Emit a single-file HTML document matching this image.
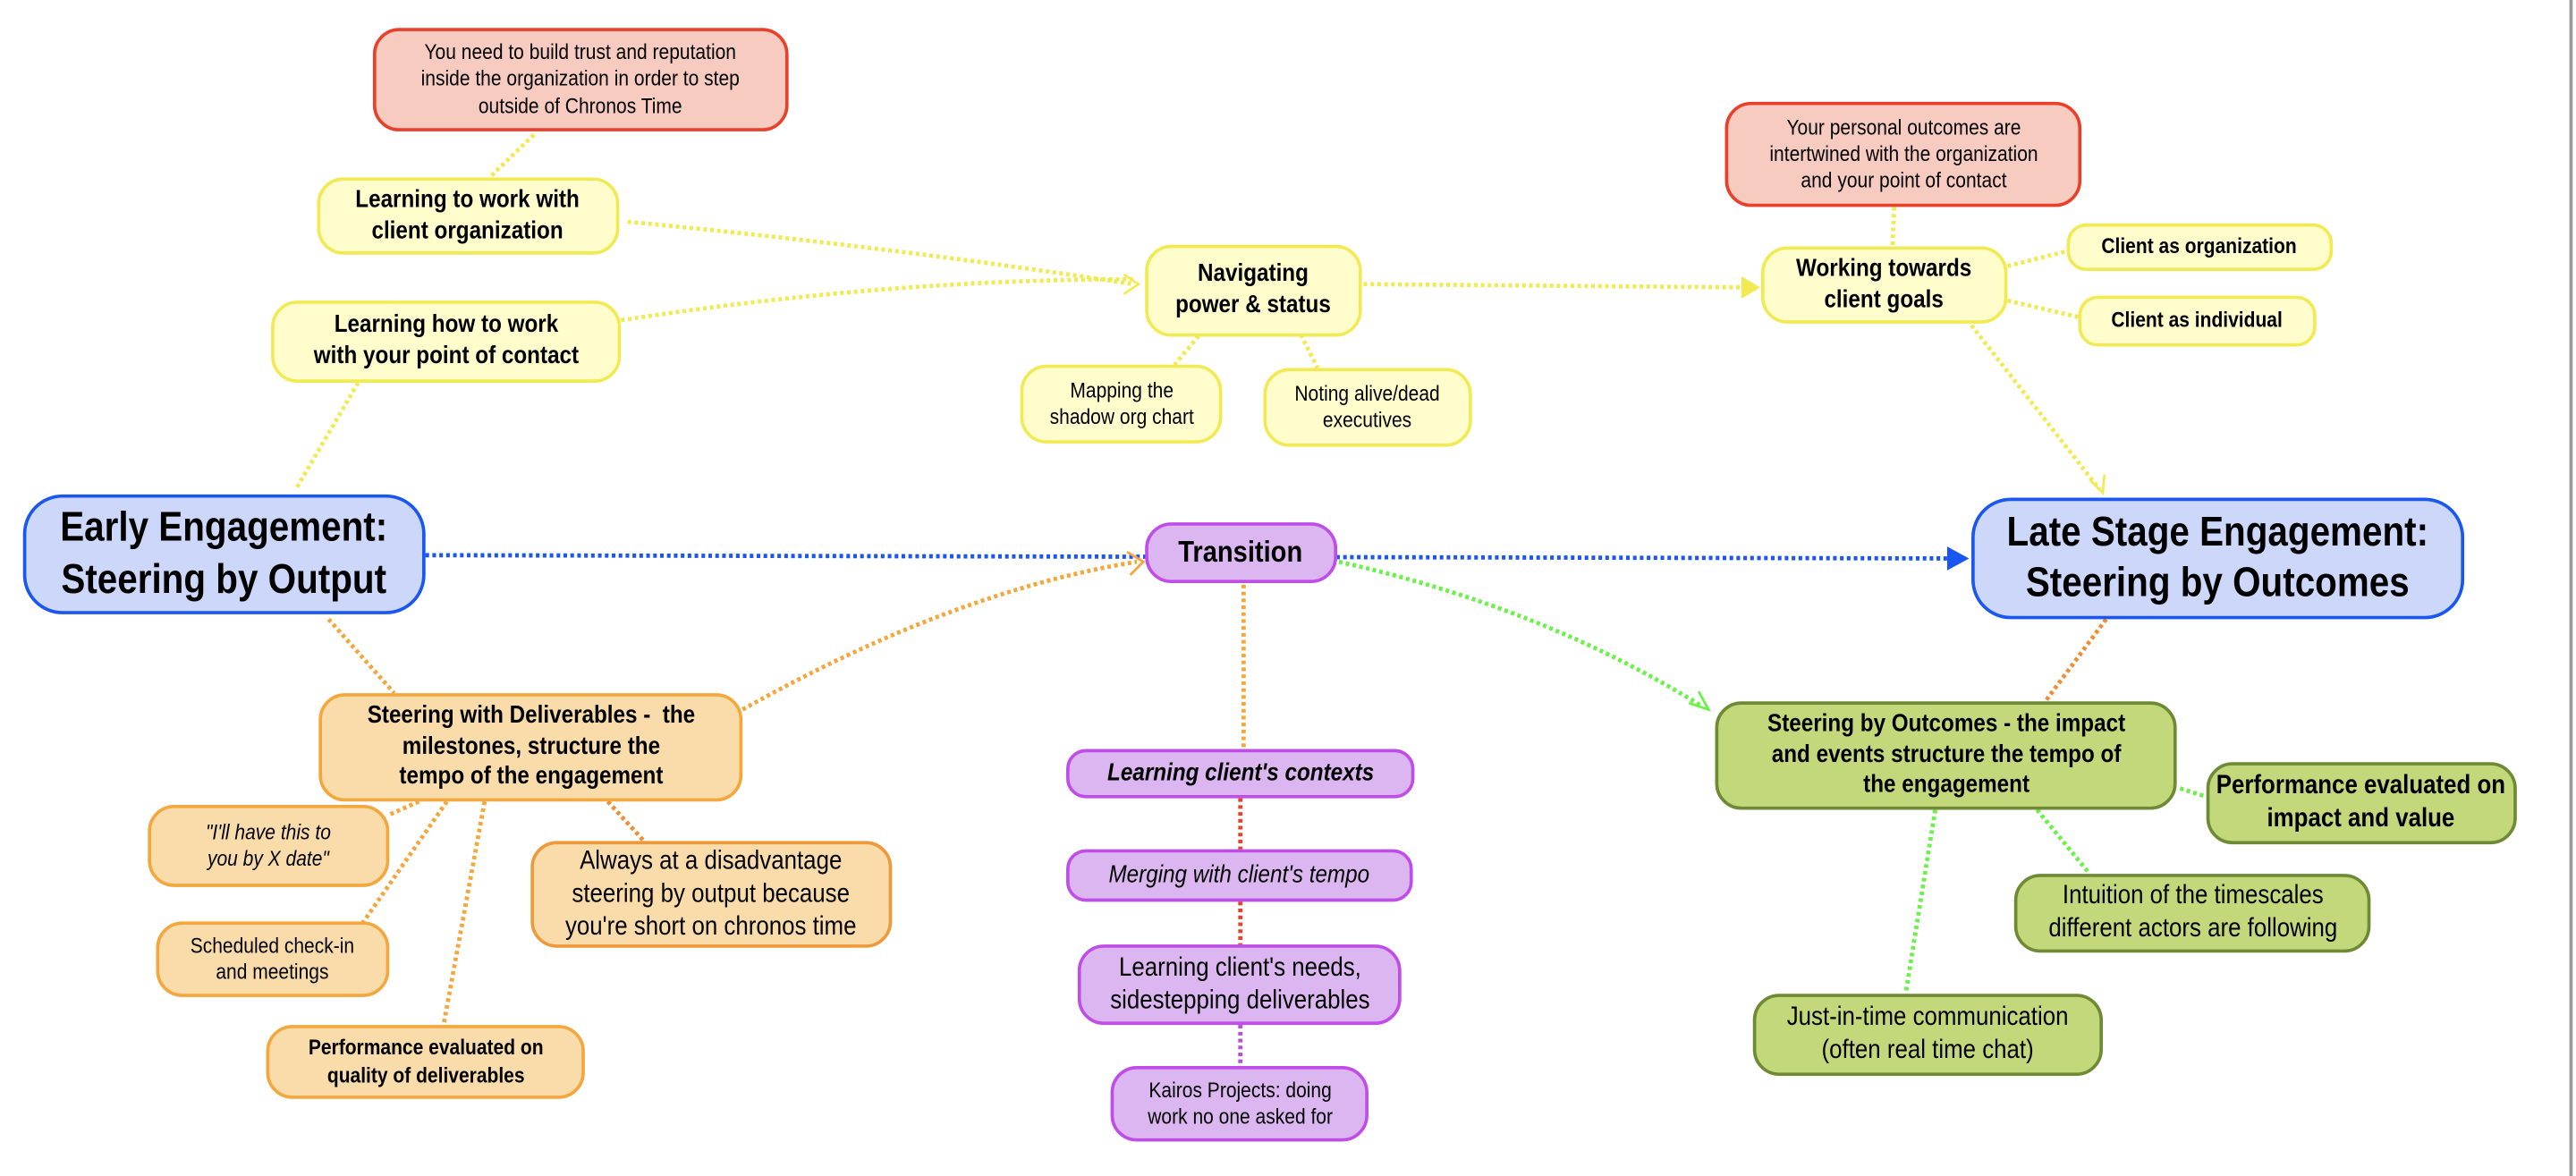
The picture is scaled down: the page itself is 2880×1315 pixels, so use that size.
<!DOCTYPE html>
<html><head><meta charset="utf-8">
<style>
html,body{margin:0;padding:0;background:#fff;}
body{width:2880px;height:1314px;overflow:hidden;position:relative;}
#s{position:absolute;left:0;top:0;width:1568px;height:716px;transform:scale(1.8367);transform-origin:0 0;font-family:"Liberation Sans",Arial,sans-serif;}
.n{position:absolute;box-sizing:border-box;display:flex;align-items:center;justify-content:center;text-align:center;border-radius:16px;border:2px solid;color:#000;white-space:nowrap;}
.n span{display:inline-block;transform:scaleX(.88);line-height:1.25;}
.y{background:#fffdcc;border-color:#f2ea55;}
.r{background:#f8cbc0;border-color:#e8402a;}
.b{background:#ccd7fa;border-color:#1a56f0;border-width:2.5px;border-radius:24px;}
.o{background:#f9dcaa;border-color:#f3a73c;}
.p{background:#dcb6f0;border-color:#c04de8;}
.g{background:#c2d87a;border-color:#6f8a35;}
.bd{font-weight:bold;}
.it{font-style:italic;}
svg{position:absolute;left:0;top:0;}
#bar{position:absolute;left:1564px;top:0;width:2px;height:716px;background:#999;}
</style></head><body>
<div id="s">
<svg width="1568" height="716" viewBox="0 0 1568 716" fill="none" stroke-width="2.6" stroke-dasharray="2.2 2">
<g stroke="#f2ea55">
<line x1="325" y1="82" x2="298" y2="108"/>
<path d="M382 135 Q540 150 690 173"/>
<path d="M378 195 Q540 170 690 170"/>
<line x1="218" y1="233" x2="180" y2="298"/>
<line x1="830" y1="173" x2="1066" y2="175"/>
<line x1="735" y1="198" x2="715" y2="222"/>
<line x1="790" y1="200" x2="802" y2="224"/>
<line x1="1153" y1="126" x2="1152" y2="150"/>
<line x1="1222" y1="162" x2="1258" y2="153"/>
<line x1="1222" y1="183" x2="1265" y2="193"/>
<line x1="1200" y1="198" x2="1278" y2="298"/>
</g>
<line x1="259" y1="338" x2="1190" y2="340" stroke="#1a56f0"/>
<g stroke="#f3a73c">
<line x1="200" y1="377" x2="240" y2="422"/>
<path d="M452 432 Q580 360 692 342"/>
<line x1="255" y1="488" x2="237" y2="496"/>
<line x1="272" y1="488" x2="220" y2="563"/>
<line x1="295" y1="488" x2="270" y2="624"/>
<line x1="757" y1="356" x2="757" y2="456"/>
</g>
<g stroke="#ef8f35">
<line x1="370" y1="488" x2="392" y2="512"/>
<line x1="1282" y1="377" x2="1245" y2="427"/>
</g>
<path d="M815 342 Q940 370 1036 430" stroke="#6cf04a"/>
<g stroke="#6cf04a">
<line x1="1327" y1="480" x2="1343" y2="485"/>
<line x1="1240" y1="493" x2="1272" y2="532"/>
<line x1="1178" y1="493" x2="1160" y2="605"/>
</g>
<g stroke="#e8402a"><line x1="755" y1="486" x2="755" y2="517"/><line x1="755" y1="549" x2="755" y2="575"/></g>
<line x1="755" y1="624" x2="755" y2="649" stroke="#b94de0"/>
<g stroke-dasharray="none" stroke-width="1.5">
<path d="M684 167 L693 173 L684 179" stroke="#f2ea55"/>
<path d="M1060 169 L1070 175 L1060 181" stroke="#f2ea55" fill="#f2ea55"/>
<path d="M1272 292 L1280 300 L1281 289" stroke="#f2ea55"/>
<path d="M1186 334 L1197 340 L1186 346 Z" fill="#1a56f0" stroke="#1a56f0"/>
<path d="M686 336 L696 342 L688 350" stroke="#f3a73c"/>
<path d="M1028 428 L1040 432 L1034 421" stroke="#6cf04a"/>
</g>
</svg>

<div class="n r" style="left:227px;top:17px;width:253px;height:63px;font-size:13px"><span>You need to build trust and reputation<br>inside the organization in order to step<br>outside of Chronos Time</span></div>
<div class="n y bd" style="left:193px;top:108px;width:184px;height:47px;font-size:15px"><span>Learning to work with<br>client organization</span></div>
<div class="n y bd" style="left:165px;top:183px;width:213px;height:50px;font-size:15px"><span>Learning how to work<br>with your point of contact</span></div>
<div class="n y bd" style="left:697px;top:149px;width:132px;height:56px;font-size:15px"><span>Navigating<br>power &amp; status</span></div>
<div class="n y" style="left:621px;top:222px;width:123px;height:48px;font-size:13px"><span>Mapping the<br>shadow org chart</span></div>
<div class="n y" style="left:769px;top:224px;width:127px;height:48px;font-size:13px"><span>Noting alive/dead<br>executives</span></div>
<div class="n r" style="left:1050px;top:62px;width:217px;height:64px;font-size:13px"><span>Your personal outcomes are<br>intertwined with the organization<br>and your point of contact</span></div>
<div class="n y bd" style="left:1072px;top:150px;width:150px;height:47px;font-size:15px"><span>Working towards<br>client goals</span></div>
<div class="n y bd" style="left:1258px;top:136px;width:162px;height:29px;font-size:13px;border-radius:12px"><span>Client as organization</span></div>
<div class="n y bd" style="left:1265px;top:180px;width:145px;height:31px;font-size:13px;border-radius:12px"><span>Client as individual</span></div>

<div class="n b bd" style="left:14px;top:301px;width:245px;height:73px;font-size:25px"><span>Early Engagement:<br>Steering by Output</span></div>
<div class="n p bd" style="left:697px;top:318px;width:117px;height:37px;font-size:18px"><span>Transition</span></div>
<div class="n b bd" style="left:1200px;top:303px;width:300px;height:74px;font-size:25px"><span>Late Stage Engagement:<br>Steering by Outcomes</span></div>

<div class="n o bd" style="left:194px;top:422px;width:258px;height:66px;font-size:15px"><span>Steering with Deliverables -&nbsp; the<br>milestones, structure the<br>tempo of the engagement</span></div>
<div class="n o it" style="left:90px;top:490px;width:147px;height:50px;font-size:13px"><span>"I'll have this to<br>you by X date"</span></div>
<div class="n o" style="left:95px;top:561px;width:142px;height:46px;font-size:13px"><span>Scheduled check-in<br>and meetings</span></div>
<div class="n o bd" style="left:162px;top:624px;width:194px;height:45px;font-size:13px"><span>Performance evaluated on<br>quality of deliverables</span></div>
<div class="n o" style="left:323px;top:512px;width:220px;height:65px;font-size:16px;border-color:#ef9a3a"><span>Always at a disadvantage<br>steering by output because<br>you're short on chronos time</span></div>

<div class="n p bd it" style="left:649px;top:456px;width:212px;height:30px;font-size:15px;border-radius:12px"><span>Learning client's contexts</span></div>
<div class="n p it" style="left:649px;top:517px;width:211px;height:32px;font-size:15px;border-radius:12px"><span>Merging with client's tempo</span></div>
<div class="n p" style="left:656px;top:575px;width:197px;height:49px;font-size:16px"><span>Learning client's needs,<br>sidestepping deliverables</span></div>
<div class="n p" style="left:676px;top:649px;width:157px;height:46px;font-size:13px"><span>Kairos Projects: doing<br>work no one asked for</span></div>

<div class="n g bd" style="left:1044px;top:427px;width:281px;height:66px;font-size:15px"><span>Steering by Outcomes - the impact<br>and events structure the tempo of<br>the engagement</span></div>
<div class="n g bd" style="left:1343px;top:464px;width:189px;height:50px;font-size:16px"><span>Performance evaluated on<br>impact and value</span></div>
<div class="n g" style="left:1226px;top:532px;width:217px;height:48px;font-size:16px"><span>Intuition of the timescales<br>different actors are following</span></div>
<div class="n g" style="left:1067px;top:605px;width:213px;height:50px;font-size:16px"><span>Just-in-time communication<br>(often real time chat)</span></div>
<div id="bar"></div>
</div>
</body></html>
